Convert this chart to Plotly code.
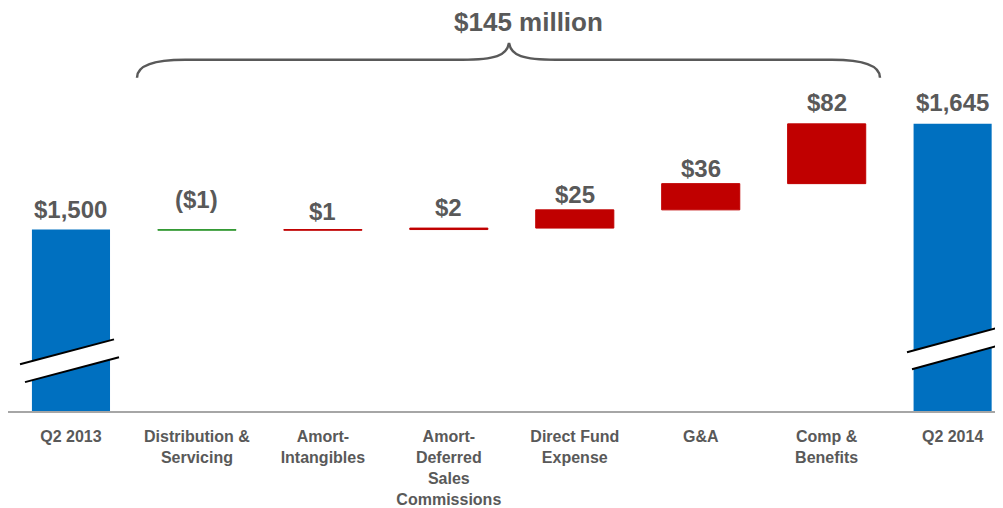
import plotly.graph_objects as go

categories = ["Q2 2013", "Distribution &<br>Servicing", "Amort-<br>Intangibles",
              "Amort-<br>Deferred<br>Sales<br>Commissions", "Direct Fund<br>Expense",
              "G&A", "Comp &<br>Benefits", "Q2 2014"]
values = [1500, -1, 1, 2, 25, 36, 82, 1645]
measures = ["absolute", "relative", "relative", "relative", "relative", "relative", "relative", "total"]
labels = ["$1,500", "($1)", "$1", "$2", "$25", "$36", "$82", "$1,645"]
title_text = "$145 million"

BLUE = "#0070C0"
RED = "#C00000"
GREEN = "#339933"
GREY = "#595959"

OFF = 8  # browser body margin
W, H = 995, 500
ML, MR, MT, MB = 0, 0, 0, 95
Y0, Y1 = 1251, 1804

# vertical pixel gap between each bar top and its value label (style only)
label_gap = [5, 15, 3, 5, 0, 0, 6, 6]

x = list(range(len(categories)))

fig = go.Figure()
fig.add_trace(go.Waterfall(
    x=x, y=values, measure=measures,
    width=0.62,
    increasing=dict(marker=dict(color=RED, line=dict(color=RED, width=1))),
    decreasing=dict(marker=dict(color=GREEN, line=dict(color=GREEN, width=1))),
    totals=dict(marker=dict(color=BLUE, line=dict(color=BLUE, width=0))),
    connector=dict(visible=False),
    textposition="none",
    hoverinfo="skip",
))

# label positions = top of each bar, derived from data
tops = []
run = 0
for v, m in zip(values, measures):
    if m == "absolute":
        run = v
        tops.append(run)
    elif m == "total":
        tops.append(run)
    else:
        prev = run
        run += v
        tops.append(max(prev, run))

for i, (t, lab) in enumerate(zip(tops, labels)):
    fig.add_annotation(x=i, y=t, text=lab, showarrow=False, yanchor="bottom",
                       yshift=label_gap[i],
                       font=dict(size=24, color=GREY, family="Liberation Sans", weight="bold"))

# helpers: page pixel to paper
pw = W - ML - MR
ph = H - MT - MB
def px(xp):
    return (xp - OFF - ML) / pw
def py(yp):
    return (H - MB - (yp - OFF)) / ph

def P(xp, yp):
    return f"{px(xp):.5f},{py(yp):.5f}"

# brace
brace = (f"M{P(137,78)} Q{P(137,60)} {P(185,60)} L{P(462,60)} "
         f"C{P(495,60)} {P(507,56)} {P(509,43)} "
         f"C{P(511,56)} {P(523,60)} {P(556,60)} L{P(832,60)} "
         f"Q{P(880,60)} {P(880,78)}")
fig.add_shape(type="path", path=brace, xref="paper", yref="paper",
              line=dict(color=GREY, width=2.5))
fig.add_annotation(x=px(528), y=py(22), xref="paper", yref="paper", text=title_text,
                   xanchor="center", yanchor="middle",
                   showarrow=False, font=dict(size=26, color=GREY, family="Liberation Sans", weight="bold"))

# axis break marks
for (a, b, c, d) in [((20, 366), (114, 341), (119, 359), (25, 384)),
                     ((907, 354), (1003, 328), (1003, 346), (912, 371))]:
    fig.add_shape(type="path", xref="paper", yref="paper",
                  path=f"M{P(*a)} L{P(*b)} L{P(*c)} L{P(*d)} Z",
                  fillcolor="white", line=dict(width=0))
    fig.add_shape(type="line", xref="paper", yref="paper",
                  x0=px(a[0]), y0=py(a[1]), x1=px(b[0]), y1=py(b[1]),
                  line=dict(color="black", width=2))
    fig.add_shape(type="line", xref="paper", yref="paper",
                  x0=px(d[0]), y0=py(d[1]), x1=px(c[0]), y1=py(c[1]),
                  line=dict(color="black", width=2))

fig.update_layout(
    width=W, height=H,
    margin=dict(l=ML, r=MR, t=MT, b=MB),
    paper_bgcolor="white", plot_bgcolor="white",
    showlegend=False,
    font=dict(family="Liberation Sans", color=GREY),
    xaxis=dict(range=[-0.5, 7.4], tickvals=x, ticktext=categories,
               showgrid=False, zeroline=False, showline=True,
               linecolor="#A6A6A6", linewidth=2,
               ticks="outside", ticklen=10, tickcolor="rgba(0,0,0,0)",
               tickfont=dict(size=16, color=GREY, family="Liberation Sans", weight="bold")),
    yaxis=dict(range=[Y0, Y1], visible=False, showgrid=False, zeroline=False),
)

fig.write_html("out.html")
